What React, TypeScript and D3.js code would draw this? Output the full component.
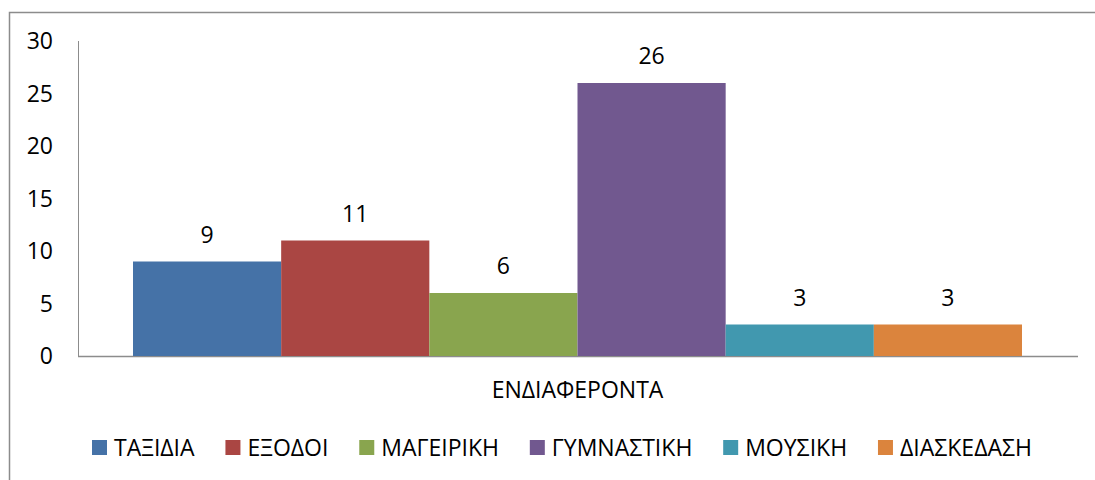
import React, { useEffect, useRef } from "react";
import * as d3 from "d3";

const categories = ["ΤΑΞΙΔΙΑ", "ΕΞΟΔΟΙ", "ΜΑΓΕΙΡΙΚΗ", "ΓΥΜΝΑΣΤΙΚΗ", "ΜΟΥΣΙΚΗ", "ΔΙΑΣΚΕΔΑΣΗ"];
const values = [9, 11, 6, 26, 3, 3];
const colors = ["#4572A7", "#AA4643", "#89A54E", "#71588F", "#4198AF", "#DB843D"];
const yTicks = [0, 5, 10, 15, 20, 25, 30];
const groupLabel = "ΕΝΔΙΑΦΕΡΟΝΤΑ";

const W = 1095;
const H = 480;
const FONT = "'Liberation Sans Narrow', 'Open Sans', sans-serif";
const FS = 23;

export default function App() {
  const ref = useRef<SVGSVGElement>(null);

  useEffect(() => {
    const svg = d3.select(ref.current);
    svg.selectAll("*").remove();

    const plot = { left: 78, right: 1078, top: 41, bottom: 356 };
    const y = d3.scaleLinear().domain([0, 30]).range([plot.bottom, plot.top]);
    const x = d3.scaleBand<string>().domain(categories).range([133, 1022]).padding(0);

    // outer border
    svg.append("rect").attr("x", 9.5).attr("y", 12.5).attr("width", W + 20).attr("height", H + 20)
      .attr("fill", "white").attr("stroke", "#8c8c8c").attr("stroke-width", 1.5);

    // axes lines
    svg.append("line").attr("x1", plot.left + 0.5).attr("x2", plot.left + 0.5)
      .attr("y1", plot.top).attr("y2", plot.bottom + 0.5).attr("stroke", "#8c8c8c").attr("stroke-width", 1);
    svg.append("line").attr("x1", plot.left).attr("x2", plot.right)
      .attr("y1", plot.bottom + 0.5).attr("y2", plot.bottom + 0.5).attr("stroke", "#8c8c8c").attr("stroke-width", 1.5);

    // y tick labels
    svg.append("g").selectAll("text").data(yTicks).join("text")
      .attr("x", 53).attr("y", (d) => y(d)).attr("dy", "0.36em")
      .attr("text-anchor", "end").attr("font-family", FONT).attr("font-size", FS).attr("fill", "#000")
      .text((d) => String(d));

    // bars
    svg.append("g").selectAll("rect").data(categories).join("rect")
      .attr("x", (d) => x(d)!).attr("width", x.bandwidth())
      .attr("y", (_d, i) => y(values[i])).attr("height", (_d, i) => plot.bottom - y(values[i]))
      .attr("fill", (_d, i) => colors[i]);

    // data labels
    svg.append("g").selectAll("text").data(categories).join("text")
      .attr("x", (d) => x(d)! + x.bandwidth() / 2).attr("y", (_d, i) => y(values[i]) - 19)
      .attr("text-anchor", "middle").attr("font-family", FONT).attr("font-size", FS).attr("fill", "#000")
      .text((_d, i) => String(values[i]));

    // category label
    svg.append("text").attr("x", (133 + 1022) / 2).attr("y", 398).attr("text-anchor", "middle")
      .attr("font-family", FONT).attr("font-size", FS).attr("fill", "#000").text(groupLabel);

    // legend
    const lg = svg.append("g");
    const items = lg.selectAll("g").data(categories).join("g");
    items.append("rect").attr("width", 15).attr("height", 15).attr("y", 440).attr("fill", (_d, i) => colors[i]);
    items.append("text").attr("x", 22).attr("y", 456).attr("font-family", FONT).attr("font-size", FS)
      .attr("fill", "#000").text((d) => d);
    const widths: number[] = [];
    items.each(function () {
      const t = d3.select(this).select("text").node() as SVGTextElement;
      widths.push(22 + t.getComputedTextLength());
    });
    const start = 92;
    const end = 1032;
    const gap = (end - start - d3.sum(widths)) / (widths.length - 1);
    let cx = start;
    items.attr("transform", (_d, i) => {
      const tx = cx;
      cx += widths[i] + gap;
      return `translate(${tx},0)`;
    });
  }, []);

  return (
    <svg ref={ref} width={W} height={H} style={{ position: "absolute", left: 0, top: 0, background: "white" }} />
  );
}
